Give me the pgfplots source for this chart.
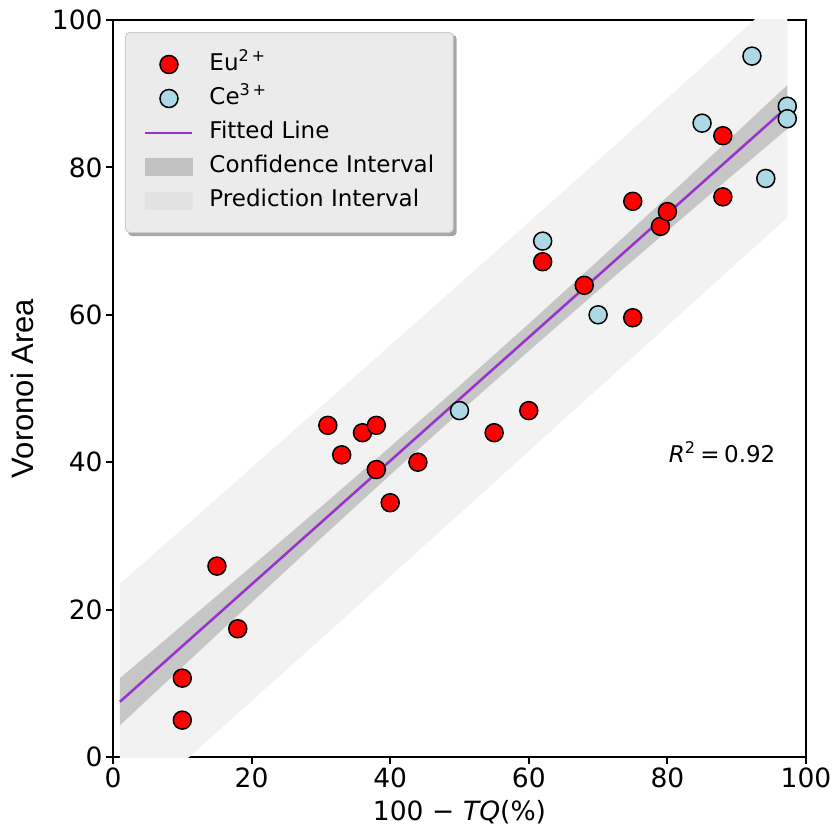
\documentclass[border=0pt]{standalone}
\usepackage{fontspec}
\setmainfont{DejaVu Sans}
\newfontfamily\arialfont{Liberation Sans}
\usepackage{pgfplots}
\pgfplotsset{compat=1.18}
\pgfdeclarelayer{background}
\pgfsetlayers{background,main}

\definecolor{eured}{HTML}{FF0000}
\definecolor{celight}{HTML}{ADD8E6}
\definecolor{fitline}{HTML}{9932CC}
\definecolor{confband}{HTML}{C6C6C6}
\definecolor{predband}{HTML}{F2F2F2}
\definecolor{legbg}{HTML}{EBEBEB}
\definecolor{legedge}{HTML}{CCCCCC}
\definecolor{legconf}{HTML}{C2C2C2}
\definecolor{legpred}{HTML}{E2E2E2}

\begin{document}
\begin{tikzpicture}
\begin{axis}[
    name=ax,
    width=693bp, height=737bp, scale only axis,
    xmin=0, xmax=100, ymin=0, ymax=100,
    xtick={0,20,...,100}, ytick={0,20,...,100},
    axis line style={line width=2.2bp},
    tick style={line width=2bp, black},
    major tick length=7bp,
    tick align=outside,
    xtick pos=bottom, ytick pos=left,
    ticklabel style={font=\fontsize{26.5bp}{30bp}\selectfont},
    /pgf/number format/assume math mode=true,
    xlabel={100\hspace{0.33em}−\hspace{0.33em}\textit{TQ}(\%)},
    xlabel style={font=\fontsize{26.5bp}{30bp}\selectfont, yshift=-6bp},
    ylabel={Voronoi Area},
    ylabel style={font=\arialfont\fontsize{31bp}{34bp}\selectfont, yshift=11bp},
    legend cell align=left,
    legend style={
        name=leg,
        at={(rel axis cs:0.0173,0.9837)}, anchor=north west,
        fill=legbg, draw=legedge, line width=1bp,
        rounded corners=4bp,
        font=\fontsize{23bp}{27bp}\selectfont,
        inner xsep=19bp, inner ysep=21bp,
        row sep=12bp,
        nodes={inner sep=0bp, text height=17bp, text depth=5bp},
        /tikz/every odd column/.append style={column sep=16bp},
    },
    legend image code/.code={
        \draw[sharp corners, mark repeat=2, mark phase=2, #1] plot coordinates {(0bp,0bp) (23.5bp,0bp) (47bp,0bp)};
    },
]

% prediction interval
\addplot[fill=predband, draw=none, forget plot] coordinates {
    (1,23.50) (10,30.95) (20,39.25) (30,47.55) (40,55.85) (50,64.20)
    (60,72.55) (70,80.95) (80,89.40) (90,97.85) (97.3,104.10)
    (97.3,73.20) (90,67.00) (80,58.50) (70,50.00) (60,41.50) (50,33.00)
    (40,24.50) (30,16.00) (20,7.60) (10,-0.85) (1,-8.50)
};
% confidence interval
\addplot[fill=confband, draw=none, forget plot] coordinates {
    (1,10.70) (10,17.87) (20,25.87) (30,33.93) (40,42.09) (50,50.36)
    (60,58.79) (70,67.35) (80,76.01) (90,84.75) (97.3,91.16)
    (97.3,85.24) (90,79.41) (80,71.39) (70,63.29) (60,55.09) (50,46.76)
    (40,38.28) (30,29.67) (20,20.97) (10,12.21) (1,4.30)
};
% fitted line
\addplot[fitline, line width=2.5bp, forget plot] coordinates {(1,7.50) (97.3,88.20)};

\addplot[only marks, mark=*, mark size=9bp,
    mark options={fill=eured, draw=black, line width=1.5bp}] table {
x y
10 10.7
10 5.0
15 25.9
18 17.4
31 45.0
33 41.0
36 44.0
38 45.0
38 39.0
40 34.5
44 40.0
55 44.0
60 47.0
62 67.2
68 64.0
75 75.4
75 59.6
79 72.0
80 74.0
88 84.3
88 76.0
};
\addlegendentry{Eu\textsuperscript{2\,+}}

\addplot[only marks, mark=*, mark size=9bp,
    mark options={fill=celight, draw=black, line width=1.5bp}] table {
x y
50 47.0
62 70.0
70 60.0
85 86.0
92.2 95.1
97.3 88.3
97.3 86.6
94.2 78.5
};
\addlegendentry{Ce\textsuperscript{3\,+}}

\addlegendimage{fitline, line width=2bp}
\addlegendentry{Fitted Line}
\addlegendimage{area legend, legend image code/.code={\fill[legconf, sharp corners] (0bp,-8.5bp) rectangle (47bp,8.5bp);}}
\addlegendentry{Confidence Interval}
\addlegendimage{area legend, legend image code/.code={\fill[legpred, sharp corners] (0bp,-8.5bp) rectangle (47bp,8.5bp);}}
\addlegendentry{Prediction Interval}

\node[anchor=base, font=\fontsize{23bp}{27bp}\selectfont] at (axis cs:87.9,39.9)
    {\textit{R}\textsuperscript{2}\hspace{0.2em}=\hspace{0.2em}0.92};
\end{axis}
\begin{pgfonlayer}{background}
\fill[black!35, rounded corners=4bp] ([xshift=3bp,yshift=-3bp]leg.south west) rectangle ([xshift=3bp,yshift=-3bp]leg.north east);
\end{pgfonlayer}
\pgfresetboundingbox
\path (ax.south west) ++(-113bp,-76bp) rectangle ++(839bp,833bp);
\end{tikzpicture}
\end{document}
